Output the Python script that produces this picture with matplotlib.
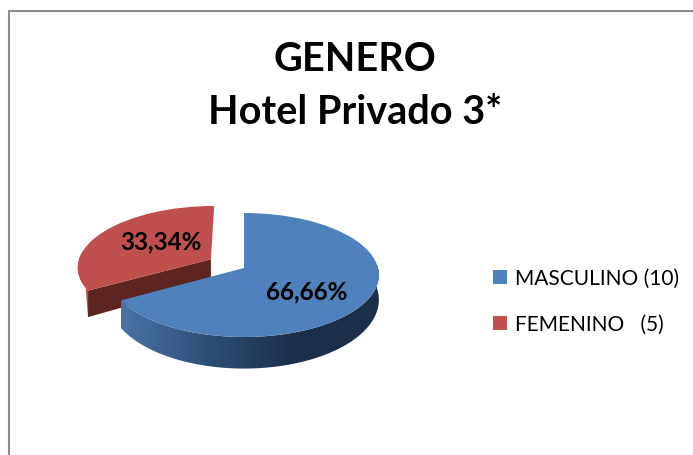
import numpy as np
import matplotlib
matplotlib.use('Agg')
import matplotlib.pyplot as plt
from matplotlib.colors import LinearSegmentedColormap
from matplotlib.patches import Polygon
from matplotlib.transforms import Transform

categories = ['MASCULINO (10)', 'FEMENINO   (5)']
values = [10, 5]
value_labels = ['66,66%', '33,34%']
title = 'GENERO\nHotel Privado 3*'

BLUE = '#4f81bd'
RED = '#c0504d'
DARK_RED = '#5c2522'

plt.rcParams['font.family'] = ['Lato', 'DejaVu Sans']

# pie apex and projection of the tilted disk, in pixels
APEX_X, APEX_Y = 244, 268
RX, RY, PERSP = 134, 61.2, 0.113


def project(xy, down=0.0):
    # flat pie coords -> picture pixels, far side a bit smaller
    xy = np.atleast_2d(xy)
    w = 1 + PERSP * xy[:, 1]
    px = APEX_X + RX * xy[:, 0] / w
    py = APEX_Y - RY * xy[:, 1] / w + down * (24 - 4 * xy[:, 1]) / w
    return np.column_stack([px, py])


class Tilt(Transform):
    input_dims = 2
    output_dims = 2

    def transform_non_affine(self, values):
        return project(values)


def rim(wedge, a1, a2, n=80):
    t = np.radians(np.linspace(a1, a2, n))
    return np.column_stack([wedge.center[0] + wedge.r * np.cos(t),
                            wedge.center[1] + wedge.r * np.sin(t)])


def wall(pts):
    return np.vstack([project(pts), project(pts, 1)[::-1]])


fig = plt.figure(figsize=(6.93, 4.55), dpi=100)
ax = fig.add_axes([0, 0, 1, 1])

wedges, _ = ax.pie(values, colors=[BLUE, RED], startangle=90, counterclock=False,
                   explode=[0, 0.29], wedgeprops={'linewidth': 0, 'zorder': 5})
blue, red = wedges
tilt = Tilt() + ax.transData
for w in wedges:
    w.set_transform(tilt)

# red slice: tapered outer wall and the dark cut face
corner = rim(red, 210, 210, 1)
ax.add_patch(Polygon(np.vstack([project(rim(red, 172, 210)), project(corner, 1)]),
                     fc='#b84c49', lw=0, zorder=2))
cut = np.vstack([np.array([red.center]), corner])
ax.add_patch(Polygon(wall(cut), fc=DARK_RED, lw=0, zorder=3))

# blue slice: outer wall with a left to right gradient
blue_wall = Polygon(wall(rim(blue, -150, 3)), fc='none', lw=0, transform=ax.transData)
ax.add_patch(blue_wall)
wall_cmap = LinearSegmentedColormap.from_list('wall', ['#4a74a8', '#2f4f78', '#1c2f49', '#1d3049'])
img = ax.imshow(np.linspace(0, 1, 256)[None, :], cmap=wall_cmap, aspect='auto',
                extent=(120, 380, 375, 260), zorder=4)
img.set_clip_path(blue_wall)

ax.set_xlim(0, 693)
ax.set_ylim(455, 0)
ax.set_aspect('auto')
ax.axis('off')

# chart border, runs off the right and bottom of the picture
ax.plot([8.5, 8.5, 693], [455, 11, 11], color='#8c8c8c', lw=1.5, zorder=1, solid_joinstyle='miter')

ax.text(355, 86, title, ha='center', va='center', fontsize=28.5, fontweight='bold',
        color='black', linespacing=1.52)
ax.text(307, 292, value_labels[0], ha='center', va='center', fontsize=17.5, fontweight='bold',
        color='black', zorder=8)
ax.text(161, 242, value_labels[1], ha='center', va='center', fontsize=17.5, fontweight='bold',
        color='black', zorder=8)

ax.legend(wedges, categories, loc='center left', bbox_to_anchor=(493 / 693, 1 - 301.5 / 455),
          frameon=False, fontsize=15, handlelength=0.68, handleheight=0.68, handletextpad=0.38,
          labelspacing=1.25, borderpad=0, borderaxespad=0)

fig.savefig('out.png', dpi=100)
